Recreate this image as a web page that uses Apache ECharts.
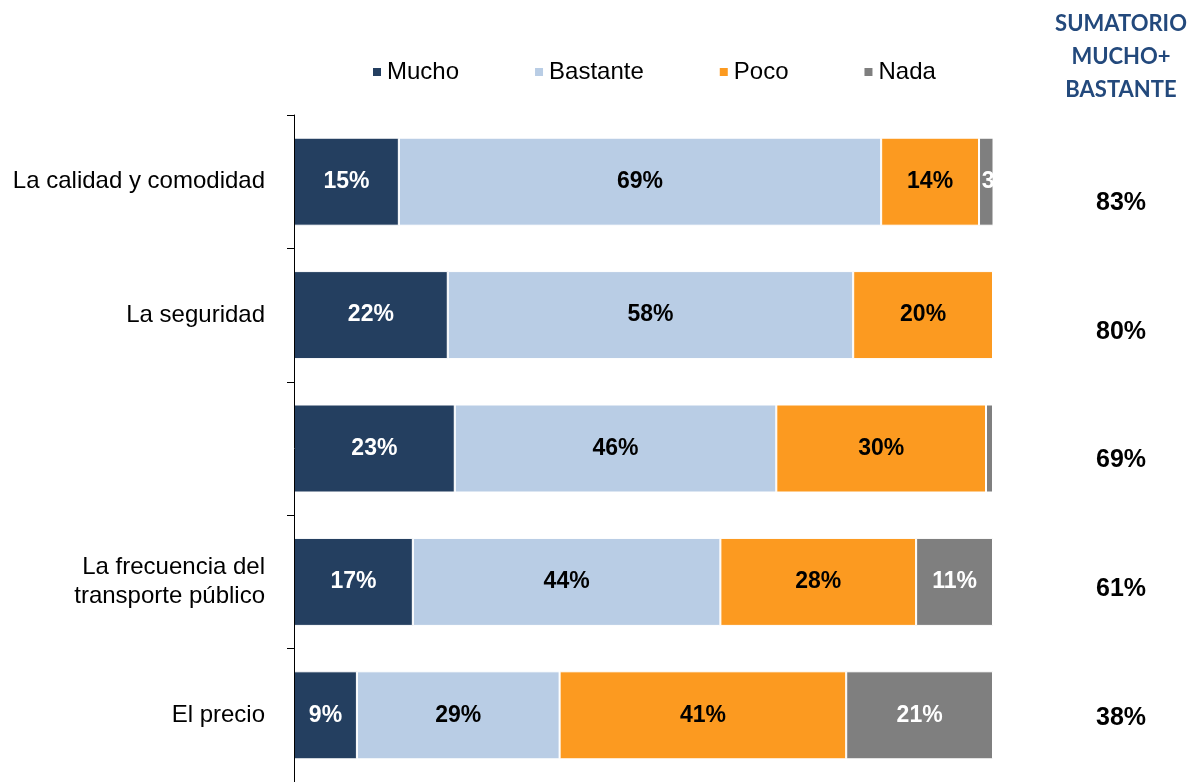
<!DOCTYPE html>
<html>
<head>
<meta charset="utf-8">
<script src="https://cdn.jsdelivr.net/npm/echarts@6/dist/echarts.min.js"></script>
<style>
html,body{margin:0;padding:0;background:#fff;}
#main{width:1197px;height:782px;}
</style>
</head>
<body>
<div id="main"></div>
<script>
const categories = ["La calidad y comodidad", "La seguridad", "", "La frecuencia del\ntransporte público", "El precio"];
const mucho    = [15, 22, 23, 17, 9];
const bastante = [69, 58, 46, 44, 29];
const poco     = [14, 20, 30, 28, 41];
const nada     = [3, 0, 1, 11, 21];
const sumatorio = ["83%", "80%", "69%", "61%", "38%"];
const seriesNames = ["Mucho", "Bastante", "Poco", "Nada"];
const headerText = "SUMATORIO\nMUCHO+\nBASTANTE";

const colors = ["#243F60", "#B9CDE5", "#FC9A20", "#7F7F7F"];
const labelColors = ["#fff", "#000", "#000", "#fff"];
const font = "Liberation Sans, Arial, sans-serif";

const chart = echarts.init(document.getElementById('main'));

function mkSeries(name, data, idx) {
  return {
    name: name,
    type: 'bar',
    stack: 'total',
    xAxisIndex: 0, yAxisIndex: 0,
    barWidth: 88,
    clip: true,
    itemStyle: { color: colors[idx], borderColor: '#fff', borderWidth: 1 },
    label: {
      show: true,
      position: 'inside',
      color: labelColors[idx],
      fontFamily: font,
      fontWeight: 'bold',
      fontSize: 23,
      formatter: p => (p.value >= 2 ? p.value + '%' : '')
    },
    data: data.map((v, i) => {
      if (idx === 3 && i === 0) {
        return { value: v, label: { formatter: '{c}', offset: [2, 0] } };
      }
      return v;
    })
  };
}

const option = {
  animation: false,
  backgroundColor: '#fff',
  color: colors,
  legend: {
    data: seriesNames,
    left: 371,
    top: 60,
    padding: 0,
    itemWidth: 10,
    itemHeight: 10,
    itemGap: 74,
    icon: 'rect',
    textStyle: { fontFamily: font, fontSize: 24, color: '#000' }
  },
  title: {
    text: headerText,
    left: 1121,
    top: 7,
    padding: 0,
    textAlign: 'center',
    textStyle: { fontFamily: 'Lato, Open Sans, sans-serif', fontWeight: 'bold', fontSize: 22, color: '#23497C', lineHeight: 33 }
  },
  grid: [
    { left: 294, width: 699, top: 115, height: 670 },
    { left: 1121, width: 1, top: 139, height: 646 }
  ],
  xAxis: [
    { type: 'value', gridIndex: 0, min: 0, max: 100, show: false },
    { type: 'value', gridIndex: 1, min: 0, max: 1, show: false }
  ],
  yAxis: [
    {
      type: 'category', gridIndex: 0, inverse: true, data: categories,
      offset: 3,
      z: 10,
      axisLine: { show: true, lineStyle: { color: '#000', width: 1 } },
      axisTick: { show: true, length: 7, lineStyle: { color: '#000' } },
      axisLabel: { margin: 26, fontFamily: font, fontSize: 24, color: '#000', lineHeight: 29, align: 'right' },
      splitLine: { show: false }
    },
    {
      type: 'category', gridIndex: 1, inverse: true, data: sumatorio,
      axisLine: { show: false }, axisTick: { show: false }, splitLine: { show: false },
      axisLabel: { margin: 0, align: 'center', fontFamily: font, fontWeight: 'bold', fontSize: 25, color: '#000' }
    }
  ],
  series: [
    mkSeries(seriesNames[0], mucho, 0),
    mkSeries(seriesNames[1], bastante, 1),
    mkSeries(seriesNames[2], poco, 2),
    mkSeries(seriesNames[3], nada, 3)
  ]
};
chart.setOption(option);
</script>
</body>
</html>
